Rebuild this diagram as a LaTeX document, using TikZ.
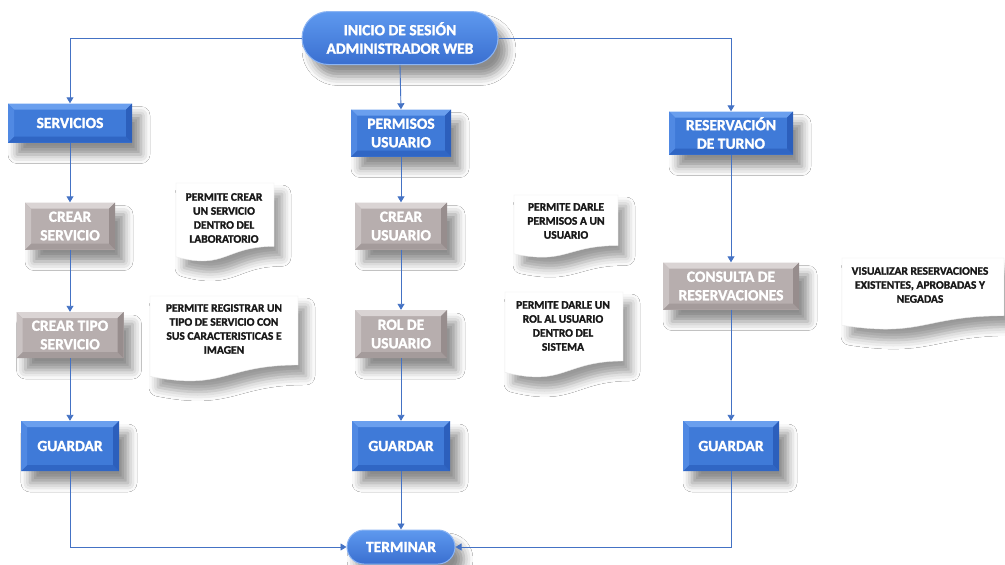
\documentclass[tikz,border=0pt]{standalone}
\usepackage{fontspec}
\setmainfont{Carlito}[BoldFont={Carlito Bold}, BoldFeatures={FakeBold=1.6}]
\usetikzlibrary{arrows.meta,shadows.blur,shapes.misc}
\definecolor{bmain}{HTML}{3F7AD8}
\definecolor{btop}{HTML}{6A9FEE}
\definecolor{bleft}{HTML}{5089E3}
\definecolor{bright}{HTML}{2C5FBC}
\definecolor{bbot}{HTML}{3066C4}
\definecolor{gmain}{HTML}{B7AEAE}
\definecolor{gtop}{HTML}{DAD4D4}
\definecolor{gleft}{HTML}{CAC3C3}
\definecolor{gright}{HTML}{978D8D}
\definecolor{gbot}{HTML}{A49B9B}
\definecolor{conn}{HTML}{4472C4}
\definecolor{pilltop}{HTML}{5E99EF}
\definecolor{pillbot}{HTML}{3A6FD0}
\definecolor{pillrim}{HTML}{8DB5F3}
\tikzset{
  bevel/.style n args={5}{fill=#1, inner sep=0pt, align=center, text=white,
    font=\fontsize{15.5}{18.5}\selectfont\bfseries,
    blur shadow={shadow xshift=9pt, shadow yshift=-12pt, shadow blur radius=9pt, shadow opacity=45},
    path picture={
      \coordinate (pNW) at (path picture bounding box.north west);
      \coordinate (pNE) at (path picture bounding box.north east);
      \coordinate (pSW) at (path picture bounding box.south west);
      \coordinate (pSE) at (path picture bounding box.south east);
      \fill[#2] (pNW) -- (pNE) -- ([shift={(-6pt,-6pt)}]pNE) -- ([shift={(6pt,-6pt)}]pNW) -- cycle;
      \fill[#5] (pSW) -- (pSE) -- ([shift={(-6pt,6pt)}]pSE) -- ([shift={(6pt,6pt)}]pSW) -- cycle;
      \fill[#3] (pNW) -- ([shift={(6pt,-6pt)}]pNW) -- ([shift={(6pt,6pt)}]pSW) -- (pSW) -- cycle;
      \fill[#4] (pNE) -- ([shift={(-6pt,-6pt)}]pNE) -- ([shift={(-6pt,6pt)}]pSE) -- (pSE) -- cycle;
    }},
  bluebox/.style={bevel={bmain}{btop}{bleft}{bright}{bbot}},
  graybox/.style={bevel={gmain}{gtop}{gleft}{gright}{gbot}},
  pill/.style={rounded rectangle, top color=pilltop, bottom color=pillbot, draw=pillrim, line width=1pt,
    inner sep=0pt, align=center, text=white, font=\fontsize{15.5}{18.5}\selectfont\bfseries,
    blur shadow={shadow xshift=9pt, shadow yshift=-12pt, shadow blur radius=9pt, shadow opacity=45}},
  conn/.style={draw=conn, line width=0.9pt, -{Triangle[width=7pt,length=6pt]}},
  notetext/.style={align=center, text=black!90, font=\fontsize{11.5}{14}\selectfont\bfseries, inner sep=0pt},
  noteshape/.style={fill=white, draw=black!8, line width=0.4pt,
    blur shadow={shadow xshift=8pt, shadow yshift=-11pt, shadow blur radius=9pt, shadow opacity=40}}
}
\newcommand\docshape[4]{% x1 y1 x2 y2
  \pgfmathsetmacro\hh{#4-#2}
  \pgfmathsetmacro\yr{#2+0.802*\hh}
  \pgfmathsetmacro\yl{#2+0.934*\hh}
  \pgfmathsetmacro\yc{#2+1.107*\hh}
  \pgfmathsetmacro\xm{(#1+#3)/2}
  \path[noteshape] (#1,#2) -- (#3,#2) -- (#3,\yr) .. controls (\xm,\yr) and (\xm,\yc) .. (#1,\yl) -- cycle;
}
\begin{document}
\begin{tikzpicture}[x=1pt,y=-1pt]
\useasboundingbox[fill=white] (0,0) rectangle (1005,565);

% notes
\docshape{176}{183}{274}{262}
\docshape{150}{296}{298}{382}
\docshape{514}{195}{618}{258}
\docshape{505}{292}{623}{378}
\docshape{842}{258}{1004}{330}
\node[notetext] (n1) at (224,218) {PERMITE CREAR\\UN SERVICIO\\DENTRO DEL\\LABORATORIO};
\node[notetext] (n2) at (224,329) {PERMITE REGISTRAR UN\\TIPO DE SERVICIO CON\\SUS CARACTERISTICAS E\\IMAGEN};
\node[notetext] (n3) at (566,221) {PERMITE DARLE\\PERMISOS A UN\\USUARIO};
\node[notetext] (n4) at (563,326) {PERMITE DARLE UN\\ROL AL USUARIO\\DENTRO DEL\\SISTEMA};
\node[notetext] (n5) at (920,285) {VISUALIZAR RESERVACIONES\\EXISTENTES, APROBADAS Y\\NEGADAS};

% main nodes
\node[pill, minimum width=196pt, minimum height=53pt] (start) at (400,38) {INICIO DE SESIÓN\\ADMINISTRADOR WEB};
\node[bluebox, minimum width=124pt, minimum height=39pt] (serv) at (70,123) {SERVICIOS};
\node[bluebox, minimum width=100pt, minimum height=47pt] (perm) at (401,133) {PERMISOS\\USUARIO};
\node[bluebox, minimum width=124pt, minimum height=43pt] (res) at (731,133) {RESERVACIÓN\\DE TURNO};
\node[graybox, minimum width=90pt, minimum height=47pt] (cserv) at (70,226) {CREAR\\SERVICIO};
\node[graybox, minimum width=107pt, minimum height=46pt] (ctipo) at (70,335) {CREAR TIPO\\SERVICIO};
\node[bluebox, minimum width=98pt, minimum height=50pt] (g1) at (70,446) {GUARDAR};
\node[graybox, minimum width=92pt, minimum height=47pt] (cusr) at (401,226) {CREAR\\USUARIO};
\node[graybox, minimum width=92pt, minimum height=48pt] (rol) at (401,334) {ROL DE\\USUARIO};
\node[bluebox, minimum width=98pt, minimum height=50pt] (g2) at (401,446) {GUARDAR};
\node[graybox, minimum width=136pt, minimum height=47pt] (cons) at (731,286) {CONSULTA DE\\RESERVACIONES};
\node[bluebox, minimum width=96pt, minimum height=50pt] (g3) at (731,446) {GUARDAR};
\node[pill, minimum width=108pt, minimum height=34pt] (term) at (401,547) {TERMINAR};

% connectors
\draw[conn] (start.west) -| (serv.north);
\draw[conn] (start.east) -| (res.north);
\draw[conn] (start.south) -- (perm.north);
\draw[conn] (serv) -- (cserv);
\draw[conn] (cserv) -- (ctipo);
\draw[conn] (ctipo) -- (g1);
\draw[conn] (perm) -- (cusr);
\draw[conn] (cusr) -- (rol);
\draw[conn] (rol) -- (g2);
\draw[conn] (res) -- (cons);
\draw[conn] (cons) -- (g3);
\draw[conn] (g1.south) |- (term.west);
\draw[conn] (g2) -- (term);
\draw[conn] (g3.south) |- (term.east);
\end{tikzpicture}
\end{document}
